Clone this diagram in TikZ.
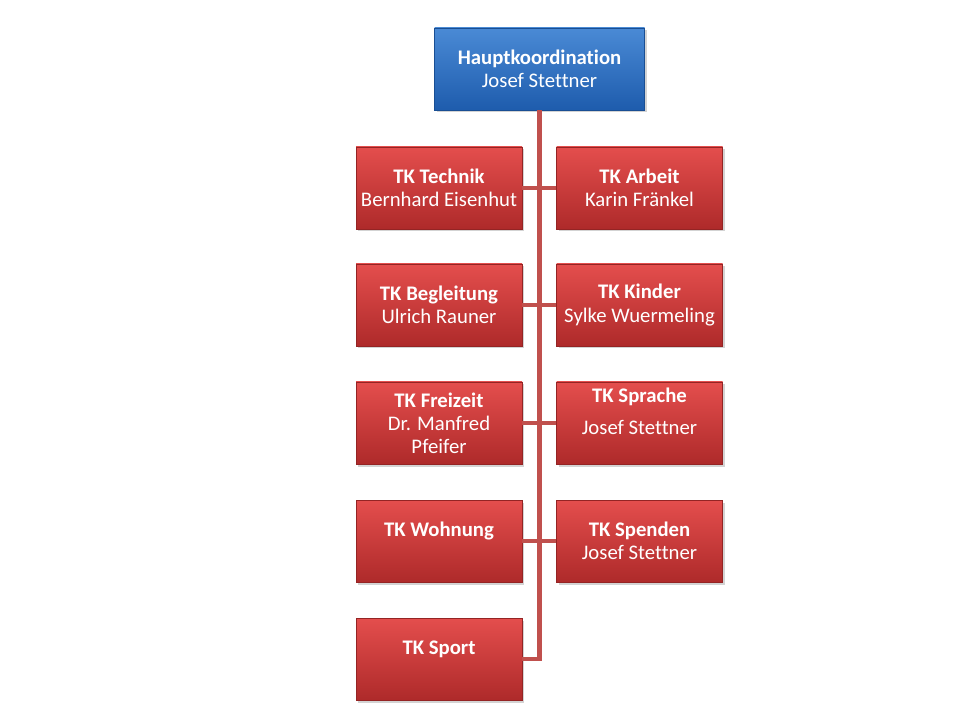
\documentclass[tikz,border=0pt]{standalone}
\usepackage{fontspec}
\setmainfont[Ligatures=NoCommon]{Carlito}
\usetikzlibrary{shadows}
\definecolor{tkrottop}{HTML}{E44E4D}
\definecolor{tkrotbot}{HTML}{AE2A2A}
\definecolor{tkblautop}{HTML}{4A8AD5}
\definecolor{tkblaubot}{HTML}{1E5CAD}
\definecolor{tklinie}{HTML}{C0504D}
\begin{document}
\begin{tikzpicture}[x=1cm,y=1cm,
	box/.style={minimum width=3.32cm,minimum height=1.64cm,inner sep=0pt,align=center,text=white,font=\fontsize{11.8}{13.2}\selectfont,draw=tkrotbot!85!black,line width=0.3pt,top color=tkrottop,bottom color=tkrotbot,drop shadow={shadow xshift=0.04,shadow yshift=-0.05,opacity=0.35}},
	chef/.style={box,minimum width=4.2cm,top color=tkblautop,bottom color=tkblaubot,draw=tkblaubot!85!black},
	linie/.style={tklinie,line width=2.3pt}]
			\useasboundingbox (0,0) rectangle (19.2,14.4);
			\def\xl{8.78} \def\xr{12.79}
			\node[chef] (haupt) at (10.79,13.02) {\textbf{Hauptkoordination}\\Josef Stettner};
			\node[box] (technik) at (\xl,10.64) {\textbf{TK Technik}\\Bernhard Eisenhut};
			\node[box] (arbeit) at (\xr,10.64) {\textbf{TK Arbeit}\\Karin Fränkel};
			\node[box] (begleitung) at (\xl,8.3) {\textbf{TK Begleitung}\\Ulrich Rauner};
			\node[box] (kinder) at (\xr,8.3) {\textbf{TK Kinder}\\Sylke Wuermeling};
			\node[box] (freizeit) at (\xl,5.94) {\textbf{TK Freizeit}\\Dr. Manfred\\Pfeifer};
			\node[box] (sprache) at (\xr,5.94) {\textbf{TK Sprache}\\[0.18cm]Josef Stettner\\\phantom{J}};
			\node[box] (wohnung) at (\xl,3.58) {\textbf{TK Wohnung}\\\phantom{J}};
			\node[box] (spenden) at (\xr,3.58) {\textbf{TK Spenden}\\Josef Stettner};
			\node[box] (sport) at (\xl,1.22) {\textbf{TK Sport}\\\phantom{J}};
			\draw[linie] (haupt.south) |- (sport.east);
			\foreach \a/\b in {technik/arbeit,begleitung/kinder,freizeit/sprache,wohnung/spenden}
				\draw[linie] (\a) -- (\b);
		\end{tikzpicture}
\end{document}
